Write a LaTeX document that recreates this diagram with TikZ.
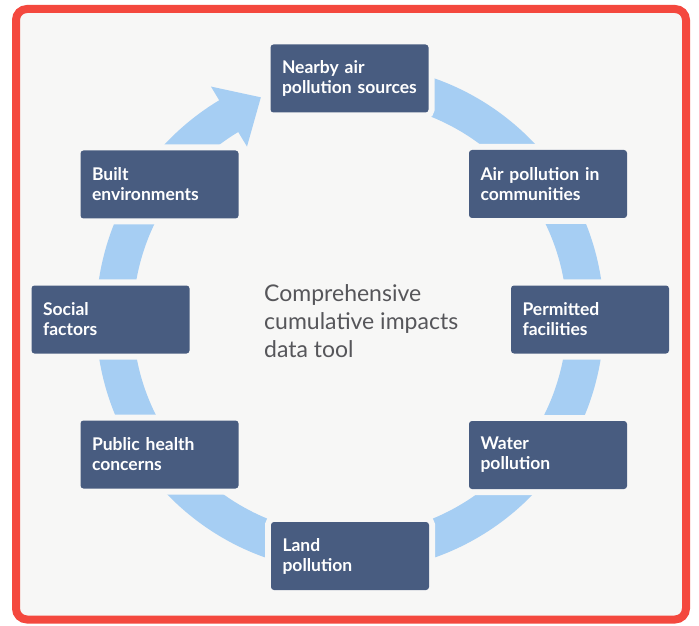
\documentclass[tikz,border=0pt]{standalone}
\usepackage{fontspec}
\setmainfont{Lato}
\usepackage{xcolor}
\usetikzlibrary{positioning}

\definecolor{framered}{RGB}{244,72,62}
\definecolor{paper}{RGB}{247,247,246}
\definecolor{boxblue}{RGB}{72,92,128}
\definecolor{ringblue}{RGB}{166,206,243}
\definecolor{textgrey}{RGB}{86,86,90}

\tikzset{
    factor/.style={rectangle, rounded corners=3pt, fill=boxblue, text=white,
        font=\bfseries\fontsize{17.5}{20}\selectfont, align=left,
        text width=135pt, inner xsep=11.5pt, minimum height=68pt,
        preaction={draw=paper, line width=12pt}},
    ring/.style={fill=ringblue}
}

\begin{document}
\begin{tikzpicture}[x=1pt, y=1pt]
    \useasboundingbox (0,0) rectangle (699,625);
    \fill[white] (0,0) rectangle (699,625);

    % Cadre
    \draw[framered, fill=paper, line width=8pt, rounded corners=11pt] (16,5.5) rectangle (686,616);

    % Anneau et fleche
    \coordinate (ctr) at (350,307);
    \fill[ring] ([shift={(88:254)}]ctr) arc[start angle=88, end angle=-239, radius=254]
        -- ([shift={(121:270)}]ctr) -- ([shift={(112:238)}]ctr) -- ([shift={(121:200)}]ctr)
        -- ([shift={(121:217)}]ctr) arc[start angle=-239, end angle=88, radius=217] -- cycle;

    % Texte central
    \node[anchor=west, inner sep=0pt, align=left, text=textgrey,
        font=\fontsize{23}{28}\selectfont] (title) at (264,304)
        {Comprehensive\\cumulative impacts\\data tool};

    % Boites
    \node[factor] (nearby) at (349.5,546.5) {Nearby air\\pollution sources};
    \node[factor] (aircomm) at (548,441) {Air pollution in\\communities};
    \node[factor] (permit) at (590,305.5) {Permitted\\facilities};
    \node[factor] (water) at (548,170) {Water\\pollution};
    \node[factor] (land) at (350,69) {Land\\pollution};
    \node[factor] (health) at (159.5,170.5) {Public health\\concerns};
    \node[factor] (social) at (110.5,305.5) {Social\\factors};
    \node[factor] (built) at (159.5,440.5) {Built\\environments};
\end{tikzpicture}
\end{document}
